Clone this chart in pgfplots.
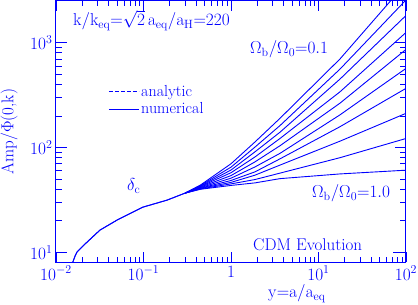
\documentclass[border=0pt]{standalone}
\usepackage{pgfplots}
\pgfplotsset{compat=1.18}
\definecolor{pblue}{RGB}{0,0,255}
\begin{document}
\begin{tikzpicture}[font=\fontsize{17}{20}\selectfont]
\begin{axis}[
 at={(0,0)}, anchor=south west,
 scale only axis, width=350pt, height=262pt,
 xmode=log, ymode=log,
 xmin=0.01, xmax=100, ymin=8, ymax=2530,
 xtick={0.01,0.1,1,10,100},
 xticklabels={$10^{-2}$,$10^{-1}$,$1$,$10^{1}$,$10^{2}$},
 ytick={10,100,1000},
 yticklabels={$10^{1}$,$10^{2}$,$10^{3}$},
 tick align=inside, major tick length=11pt, minor tick length=6pt,
 axis line style={pblue, line width=1pt},
 every tick/.style={pblue, line width=0.8pt},
 tick label style={pblue},
 ylabel={Amp/$\Phi$(0,k)},
 ylabel style={pblue, at={(axis description cs:-0.134,0.5)}, anchor=center},
 clip=true,
 legend style={draw=none, fill=none, inner sep=0pt, text=pblue,
   at={(axis description cs:0.149,0.685)}, anchor=north west,
   row sep=1pt, font=\fontsize{16}{18}\selectfont},
 legend cell align=left,
 legend image code/.code={\draw[#1] (0pt,0pt) -- (30pt,0pt);},
]
\addlegendimage{pblue, dash pattern=on 4pt off 2pt, line width=0.9pt}
\addlegendentry{analytic}
\addlegendimage{pblue, solid, line width=0.9pt}
\addlegendentry{numerical}
% common early evolution + f_b = 0.1
\addplot[pblue, solid, line width=0.9pt] coordinates {(0.0150,7.0) (0.0156,8.1) (0.0165,9.2) (0.0174,10.07) (0.0200,11.35) (0.0226,12.5) (0.0318,16.3) (0.0498,20.3) (0.0759,24.2) (0.0986,27.0) (0.186,31.5) (0.30,36.8)
 (0.45,44) (1.0,70) (1.88,113) (3.63,190) (17.6,700) (100,3700)};
\addplot[pblue, solid, line width=0.9pt] coordinates {(0.0150,7.0) (0.0156,8.1) (0.0165,9.2) (0.0174,10.07) (0.0200,11.35) (0.0226,12.5) (0.0318,16.3) (0.0498,20.3) (0.0759,24.2) (0.0986,27.0) (0.186,31.5) (0.30,36.8)
 (0.45,43.5) (1.0,65) (1.88,101) (3.63,162) (17.6,560) (100,2560)};
\addplot[pblue, solid, line width=0.9pt] coordinates {(0.30,36.8) (0.45,43) (1.0,61) (1.88,91) (3.63,140) (17.6,450) (100,1820)};
\addplot[pblue, solid, line width=0.9pt] coordinates {(0.30,36.8) (0.45,42.5) (1.0,57.5) (1.88,81.3) (3.63,122) (17.6,340) (100,1253)};
\addplot[pblue, solid, line width=0.9pt] coordinates {(0.30,36.8) (0.45,42) (1.0,54) (1.88,73) (3.63,104) (17.6,265) (100,863)};
\addplot[pblue, solid, line width=0.9pt] coordinates {(0.30,36.8) (0.45,41.5) (1.0,51) (1.88,65.3) (3.63,88) (17.6,205) (100,569)};
\addplot[pblue, solid, line width=0.9pt] coordinates {(0.30,36.8) (0.45,41) (1.0,48.5) (1.88,58.6) (3.63,78) (17.6,158) (100,367)};
\addplot[pblue, solid, line width=0.9pt] coordinates {(0.30,36.8) (0.45,40.7) (1.0,46.5) (1.88,54.5) (3.63,68) (17.6,115) (100,212)};
\addplot[pblue, solid, line width=0.9pt] coordinates {(0.30,36.8) (0.45,40.3) (1.0,45) (1.88,49.5) (3.63,57) (17.6,80) (100,122)};
\addplot[pblue, solid, line width=0.9pt] coordinates {(0.30,36.8) (0.45,40) (1.0,43.5) (1.88,46) (3.63,50.5) (17.6,56) (100,60.8)};
\end{axis}
\begin{scope}[pblue]
\node[anchor=base west, inner sep=0pt] at (17pt,237pt) {$\mathrm{k/k_{eq}{=}\sqrt{2}\,a_{eq}/a_{H}{=}220}$};
\node[anchor=base west, inner sep=0pt] at (194pt,209pt) {$\Omega_{\mathrm{b}}/\Omega_{0}{=}0.1$};
\node[anchor=base west, inner sep=0pt] at (71pt,72pt) {$\delta_{\mathrm{c}}$};
\node[anchor=base west, inner sep=0pt] at (256pt,65pt) {$\Omega_{\mathrm{b}}/\Omega_{0}{=}1.0$};
\node[anchor=base west, inner sep=0pt] at (197pt,12pt) {CDM Evolution};
\draw[line width=0.9pt] (337pt,10pt) -- (348pt,10pt);
\node[anchor=base west, inner sep=0pt] at (212pt,-35pt) {$\mathrm{y{=}a/a_{eq}}$};
\end{scope}
\pgfresetboundingbox
\useasboundingbox (-56pt,-42pt) rectangle (362pt,262.5pt);
\end{tikzpicture}
\end{document}
